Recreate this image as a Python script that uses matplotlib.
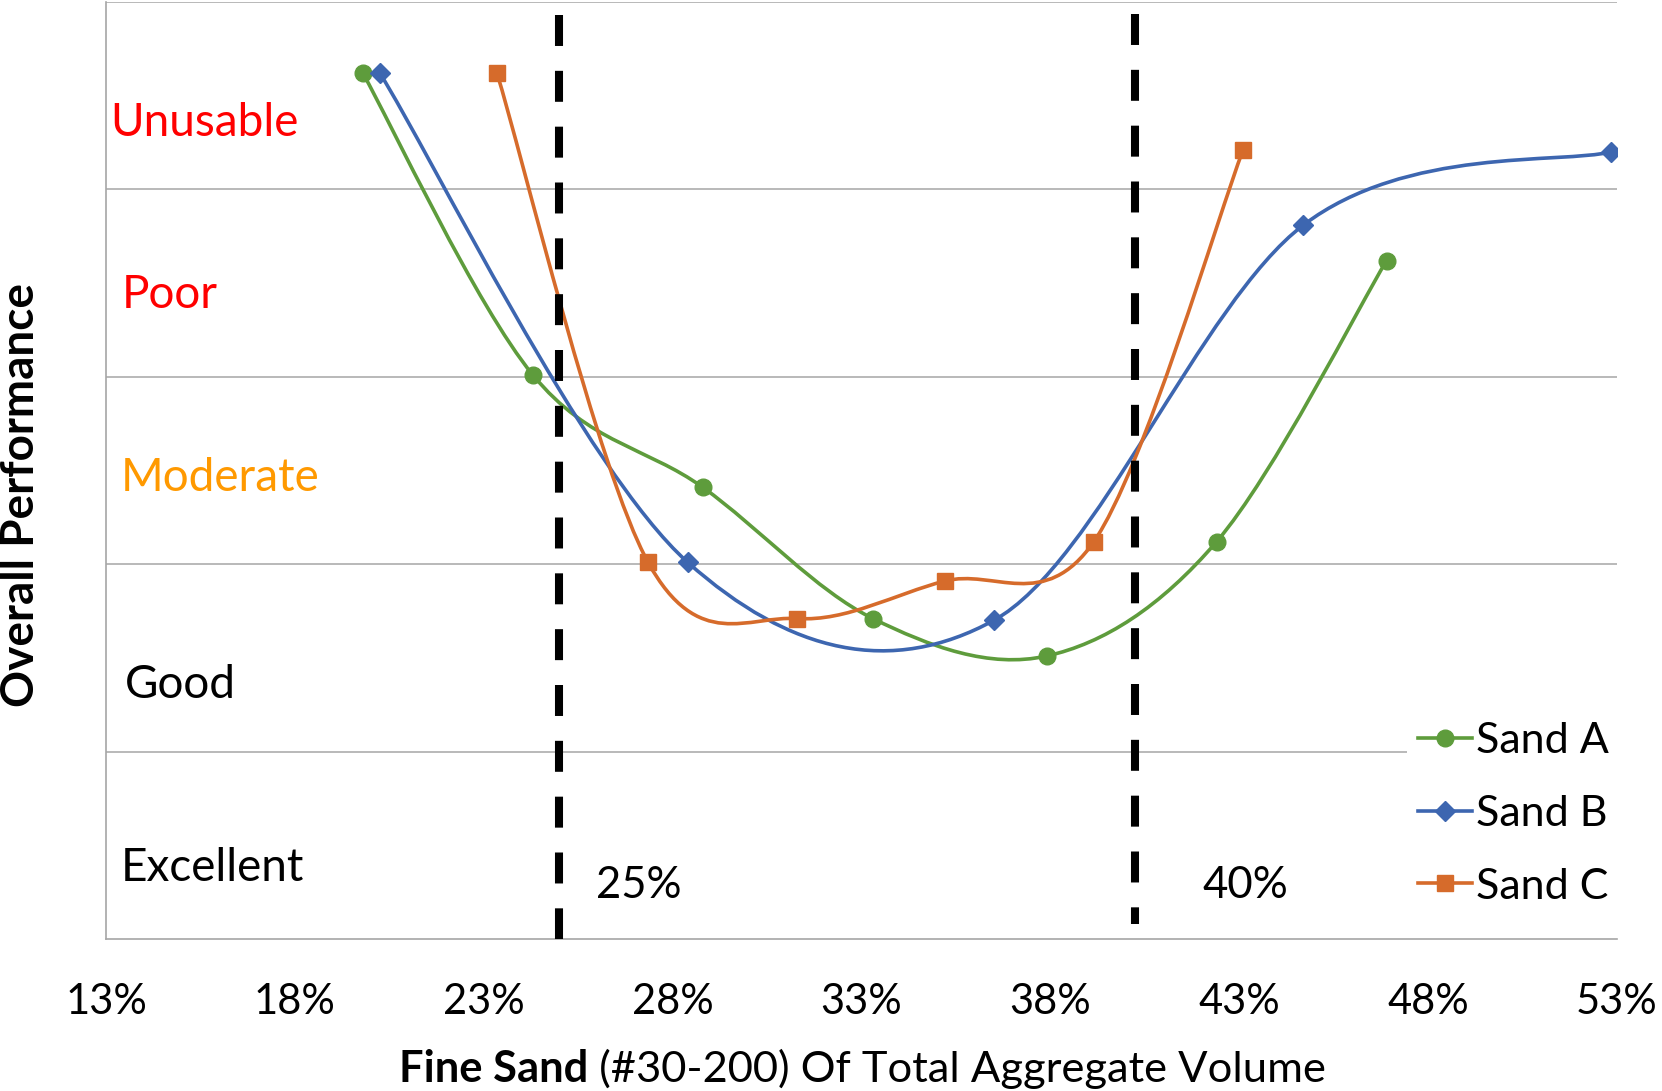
import numpy as np
import matplotlib
matplotlib.use("Agg")
import matplotlib.pyplot as plt
from matplotlib.path import Path
from matplotlib.patches import PathPatch
from matplotlib.lines import Line2D

plt.rcParams['font.family'] = ['Lato', 'DejaVu Sans']
plt.rcParams['lines.scale_dashes'] = False

# ---------------- data ----------------
sand_a_x = [19.8, 24.3, 28.8, 33.3, 37.9, 42.4, 46.9]
sand_a_y = [4.62, 3.01, 2.41, 1.71, 1.51, 2.12, 3.62]
sand_b_x = [20.25, 28.4, 36.5, 44.7, 52.85]
sand_b_y = [4.62, 2.01, 1.70, 3.81, 4.20]
sand_c_x = [23.35, 27.35, 31.3, 35.2, 39.15, 43.1]
sand_c_y = [4.62, 2.01, 1.71, 1.91, 2.12, 4.21]
series_names = ['Sand A', 'Sand B', 'Sand C']
x_ticks = [13, 18, 23, 28, 33, 38, 43, 48, 53]
x_tick_labels = ['13%', '18%', '23%', '28%', '33%', '38%', '43%', '48%', '53%']
bands = ['Unusable', 'Poor', 'Moderate', 'Good', 'Excellent']
limit_lines = [25, 40.25]
limit_labels = ['25%', '40%']

# ---------------- style ----------------
W, H = 1662, 1091
green, blue, orange = '#5E9C3C', '#3D66B0', '#D66B2B'
grid_c = '#A6A6A6'

fig = plt.figure(figsize=(W / 100, H / 100), dpi=100)
ax = fig.add_axes([106 / W, 1 - 939 / H, (1617 - 106) / W, (939 - 2) / H])
ax.set_xlim(13, 53)
ax.set_ylim(0, 5)


def px(x, y):
    return x / W, 1 - y / H


def smooth_path(x, y):
    pts = np.column_stack([x, y]).astype(float)
    n = len(pts)
    verts = [pts[0]]
    codes = [Path.MOVETO]
    for i in range(n - 1):
        p0 = pts[i - 1] if i > 0 else pts[i]
        p1 = pts[i]
        p2 = pts[i + 1]
        p3 = pts[i + 2] if i + 2 < n else pts[i + 1]
        c1 = p1 + (p2 - p0) / 6.0
        c2 = p2 - (p3 - p1) / 6.0
        verts += [c1, c2, p2]
        codes += [Path.CURVE4] * 3
    return Path(verts, codes)


# grid
ax.set_yticks([1, 2, 3, 4, 5])
ax.yaxis.grid(True, color=grid_c, lw=1.1, zorder=0)
ax.tick_params(axis='y', length=0, labelleft=False)
ax.set_axisbelow(True)
for s in ['top', 'right']:
    ax.spines[s].set_visible(False)
for s in ['left', 'bottom']:
    ax.spines[s].set_color(grid_c)
    ax.spines[s].set_linewidth(1.2)

ax.set_xticks(x_ticks)
ax.set_xticklabels(x_tick_labels, fontsize=30)
ax.tick_params(axis='x', length=0, pad=32)

specs = [
    (sand_a_x, sand_a_y, green, 'o', 12),
    (sand_b_x, sand_b_y, blue, 'D', 10),
    (sand_c_x, sand_c_y, orange, 's', 11.5),
]
handles = []
for (xs, ys, c, m, ms), name in zip(specs, series_names):
    ax.add_patch(PathPatch(smooth_path(xs, ys), fill=False, edgecolor=c,
                           lw=2.6, zorder=3, capstyle='round'))
    ax.plot(xs, ys, ls='none', marker=m, ms=ms, color=c, mec=c, zorder=4)
    handles.append(Line2D([], [], color=c, lw=2.6, marker=m, ms=ms, mec=c))

# dashed limit lines
ax.plot([limit_lines[0]] * 2, [4.931, 0.0], color='black', lw=5.8,
        dashes=(22.3, 17.9), solid_capstyle='butt', dash_capstyle='butt',
        zorder=5, clip_on=False)
ax.plot([limit_lines[1]] * 2, [4.938, 0.08], color='black', lw=5.8,
        dashes=(22.3, 17.9), solid_capstyle='butt', dash_capstyle='butt',
        zorder=5, clip_on=False)

# band labels
band_colors = ['#FF0000', '#FF0000', '#FF9900', 'black', 'black']
band_pos = [(110, 136), (122, 308), (121, 491), (125, 698), (121, 881)]
for lab, c, (bx, by) in zip(bands, band_colors, band_pos):
    fig.text(*px(bx, by), lab, color=c, fontsize=33, ha='left', va='baseline')

fig.text(*px(596, 898), limit_labels[0], fontsize=31.5, ha='left', va='baseline')
fig.text(*px(1202, 898), limit_labels[1], fontsize=31.5, ha='left', va='baseline')

# axis titles
fig.text(*px(21, 495), 'Overall Performance', fontsize=33, fontweight='bold',
         rotation=90, ha='center', va='center')
t1 = fig.text(*px(399, 1082), 'Fine Sand', fontsize=31.3, fontweight='bold',
              ha='left', va='baseline')
ax.annotate(' (#30-200) Of Total Aggregate Volume', xy=(1, 0), xycoords=t1,
            fontsize=31.3, ha='left', va='bottom', annotation_clip=False)

leg = ax.legend(handles, series_names, loc='upper left',
                bbox_to_anchor=px(1407, 711), bbox_transform=fig.transFigure,
                fontsize=31, frameon=True, framealpha=1, edgecolor='none',
                facecolor='white', fancybox=False, borderaxespad=0,
                borderpad=0.25, handlelength=1.26, handletextpad=0.1,
                labelspacing=0.81, numpoints=1)
leg.set_zorder(10)

fig.savefig('out.png', dpi=100)
